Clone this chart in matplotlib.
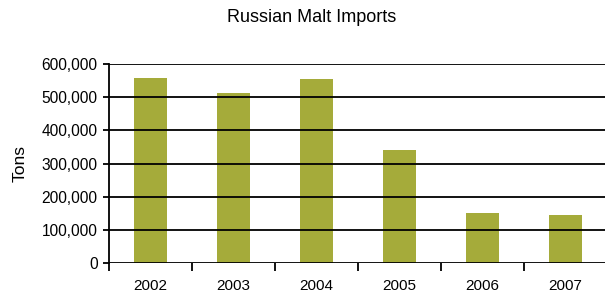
import matplotlib
matplotlib.use("Agg")
import matplotlib.pyplot as plt
from matplotlib.ticker import FuncFormatter, FixedLocator

years = ["2002", "2003", "2004", "2005", "2006", "2007"]
imports_tons = [558000, 513000, 555000, 341000, 152000, 146000]

plt.rcParams['font.family'] = ['Liberation Sans', 'DejaVu Sans']

fig = plt.figure(figsize=(6.05, 2.94), dpi=100)
ax = fig.add_axes([108.7/605, 1-263.3/294, 498/605, (263.3-64)/294])

x = list(range(len(years)))
ax.bar(x, imports_tons, width=0.4, color="#A5AB3A", zorder=1)

ax.set_xlim(-0.5, len(years) - 0.5)
ax.set_ylim(0, 600000)
ax.set_yticks(range(0, 600001, 100000))
ax.yaxis.set_major_formatter(FuncFormatter(lambda v, p: f"{int(v):,}"))
ax.yaxis.grid(True, color="black", linewidth=1.3, zorder=3)
ax.set_axisbelow(False)

ax.xaxis.set_major_locator(FixedLocator([i - 0.5 for i in range(len(years) + 1)]))
ax.xaxis.set_major_formatter(FuncFormatter(lambda v, p: ""))
ax.xaxis.set_minor_locator(FixedLocator(x))
ax.set_xticklabels(years, minor=True)
ax.tick_params(axis="x", which="major", length=6, width=1.3, direction="out", color="black")
ax.tick_params(axis="x", which="minor", length=0, labelsize=11, pad=11)
ax.tick_params(axis="y", length=4, width=1.3, labelsize=11.2, pad=4)

for s in ["top", "right", "bottom"]:
    ax.spines[s].set_visible(False)
ax.spines["left"].set_linewidth(1.3)

ax.set_ylabel("Tons", fontsize=12.5, labelpad=10)
fig.text(312/605, 1-17/294, "Russian Malt Imports", ha="center", va="center", fontsize=13)

fig.savefig("out.png", dpi=100)
